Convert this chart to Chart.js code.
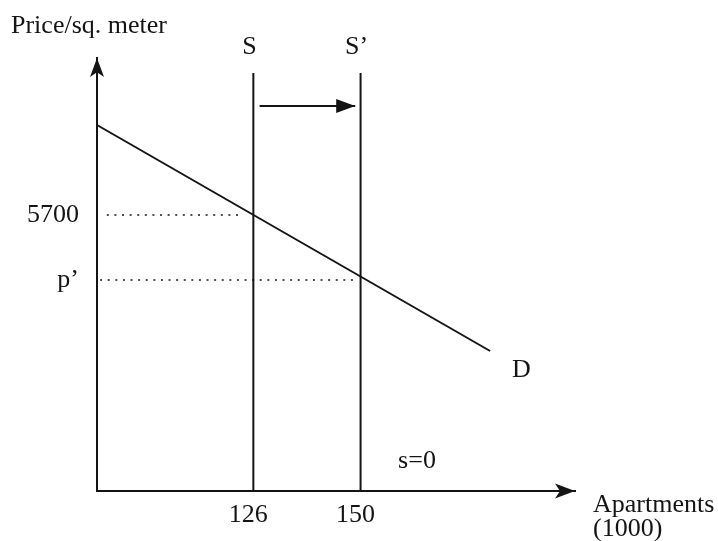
<!DOCTYPE html>
<html>
<head>
<meta charset="utf-8">
<script src="https://cdn.jsdelivr.net/npm/chart.js@4"></script>
<style>
  html, body { margin: 0; padding: 0; background: #fff; }
  #wrap { width: 718px; height: 541px; }
</style>
</head>
<body>
<div id="wrap"><canvas id="market"></canvas></div>
<script>
// quantity axis (apartments, 1000s) and price axis (per sq. meter)
const quantityTicks = [126, 150];
const priceTicks = [5700, 5050];
const priceTickLabels = ['5700', 'p\u2019'];

// demand curve D
const demandQ = [91, 179];
const demandP = [6600, 4340];

// vertical supply: S before, S' after the shift
const supplyQ = [126, 150];
const supplyNames = ['S', 'S\u2019'];
const supplyTopP = 7120;

// shift arrow from S towards S'
const shiftQ = [127.4, 148.8];
const shiftP = 6790;

// dotted guides to the price axis
const guide5700Q = [93.2, 123];
const guidePrimeQ = [91.7, 148.8];

const qMin = 91, qMax = 198;
const pMin = 2940, pMax = 7270;

const ink = '#141414';
const serif = '"Liberation Serif", "DejaVu Serif", serif';

function line(xs, ys, extra) {
  return Object.assign({
    data: xs.map((q, i) => ({ x: q, y: ys[i] })),
    showLine: true,
    borderColor: ink,
    borderWidth: 2,
    pointRadius: 0,
    clip: false
  }, extra || {});
}

function stealth(ctx, tx, ty, dx, dy, len, half) {
  const px = -dy, py = dx;
  ctx.beginPath();
  ctx.moveTo(tx, ty);
  ctx.lineTo(tx - dx * len + px * half, ty - dy * len + py * half);
  ctx.lineTo(tx - dx * len * 0.75, ty - dy * len * 0.75);
  ctx.lineTo(tx - dx * len - px * half, ty - dy * len - py * half);
  ctx.closePath();
  ctx.fill();
}

const annotations = {
  id: 'annotations',
  afterDraw(chart) {
    const { ctx, chartArea: a, scales: { x, y } } = chart;
    ctx.save();
    ctx.fillStyle = ink;

    // axis arrows
    stealth(ctx, a.left, a.top, 0, -1, 19, 7);
    stealth(ctx, a.right, a.bottom, 1, 0, 20, 7.5);

    // arrow heads on flagged datasets
    chart.data.datasets.forEach((ds, i) => {
      if (!ds.arrowHead) return;
      const pts = chart.getDatasetMeta(i).data;
      const p0 = pts[pts.length - 2], p1 = pts[pts.length - 1];
      const d = Math.hypot(p1.x - p0.x, p1.y - p0.y);
      const ux = (p1.x - p0.x) / d, uy = (p1.y - p0.y) / d;
      ctx.beginPath();
      ctx.moveTo(p1.x, p1.y);
      ctx.lineTo(p1.x - ux * 19 - uy * 7, p1.y - uy * 19 + ux * 7);
      ctx.lineTo(p1.x - ux * 19 + uy * 7, p1.y - uy * 19 - ux * 7);
      ctx.closePath();
      ctx.fill();
    });

    ctx.font = '26px ' + serif;
    ctx.textBaseline = 'alphabetic';

    // supply labels
    ctx.textAlign = 'center';
    supplyQ.forEach((q, i) => {
      ctx.fillText(supplyNames[i], x.getPixelForValue(q) - 4, y.getPixelForValue(supplyTopP) - 19);
    });

    // demand label at the end of the curve
    ctx.textAlign = 'left';
    const dx = x.getPixelForValue(demandQ[demandQ.length - 1]);
    const dy = y.getPixelForValue(demandP[demandP.length - 1]);
    ctx.fillText('D', dx + 22, dy + 26);

    // shift size note
    ctx.fillText('s=0', x.getPixelForValue(158.4), a.bottom - 23);

    // axis titles
    ctx.fillText('Price/sq. meter', a.left - 86, a.top - 25);
    ctx.fillText('Apartments', a.right + 18, a.bottom + 21);
    ctx.fillText('(1000)', a.right + 18, a.bottom + 45);

    ctx.restore();
  }
};

new Chart(document.getElementById('market'), {
  type: 'scatter',
  data: {
    datasets: [
      line(demandQ, demandP),
      line([supplyQ[0], supplyQ[0]], [pMin, supplyTopP]),
      line([supplyQ[1], supplyQ[1]], [pMin, supplyTopP]),
      line(shiftQ, [shiftP, shiftP], { arrowHead: true }),
      line(guide5700Q, [priceTicks[0], priceTicks[0]], { borderWidth: 1.6, borderDash: [2, 5.6] }),
      line(guidePrimeQ, [priceTicks[1], priceTicks[1]], { borderWidth: 1.6, borderDash: [2, 5.6] })
    ]
  },
  options: {
    responsive: true,
    maintainAspectRatio: false,
    animation: false,
    layout: { padding: { top: 58, right: 143, left: 0, bottom: 0 } },
    plugins: { legend: { display: false }, tooltip: { enabled: false } },
    scales: {
      x: {
        type: 'linear',
        min: qMin,
        max: qMax,
        afterFit(scale) { scale.height = 50; },
        afterBuildTicks(scale) { scale.ticks = quantityTicks.map(v => ({ value: v })); },
        grid: { display: false, drawTicks: false },
        border: { display: true, color: ink, width: 2 },
        ticks: {
          padding: 9,
          labelOffset: -5,
          color: ink,
          font: { family: serif, size: 26 },
          callback: v => String(v)
        }
      },
      y: {
        type: 'linear',
        min: pMin,
        max: pMax,
        afterFit(scale) { scale.width = 97; },
        afterBuildTicks(scale) { scale.ticks = priceTicks.map(v => ({ value: v })); },
        grid: { display: false, drawTicks: false },
        border: { display: true, color: ink, width: 2 },
        ticks: {
          padding: 18,
          color: ink,
          font: { family: serif, size: 26 },
          callback: v => priceTickLabels[priceTicks.indexOf(v)]
        }
      }
    }
  },
  plugins: [annotations]
});
</script>
</body>
</html>
